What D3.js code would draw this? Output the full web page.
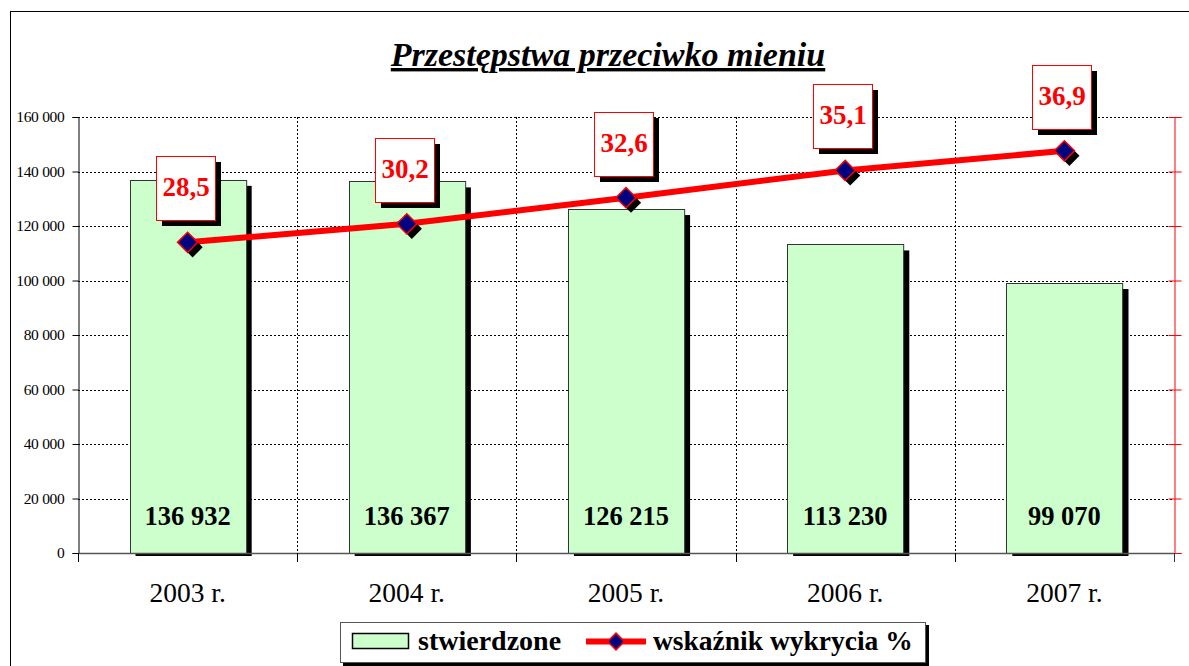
<!DOCTYPE html>
<html>
<head>
<meta charset="utf-8">
<script src="https://cdn.jsdelivr.net/npm/d3@7"></script>
<style>
  body { margin: 0; background: #fff; }
  text { font-family: "Liberation Serif", "DejaVu Serif", serif; }
</style>
</head>
<body>
<div id="chart"></div>
<script>
// Data
const years = ["2003 r.", "2004 r.", "2005 r.", "2006 r.", "2007 r."];
const stwierdzone = [136932, 136367, 126215, 113230, 99070];
const wskaznik = [28.5, 30.2, 32.6, 35.1, 36.9];
const yTicks = [0, 20000, 40000, 60000, 80000, 100000, 120000, 140000, 160000];
const rightTicks = [0, 5, 10, 15, 20, 25, 30, 35, 40];

function drawChart(containerId) {
  const width = 1189, height = 666;
  const plot = { left: 78, right: 1174, top: 117, bottom: 553 };

  const svg = d3.select(`#${containerId}`)
      .append("svg")
      .attr("width", width)
      .attr("height", height);

  // outer frame (right/bottom edges fall outside the view)
  svg.append("rect")
      .attr("x", 10.5).attr("y", 11.5)
      .attr("width", 1200).attr("height", 700)
      .attr("fill", "#fff")
      .attr("stroke", "#000");

  const fmt = v => d3.format(",")(v).replace(/,/g, " ");

  const x = d3.scaleBand()
      .domain(years)
      .range([plot.left, plot.right])
      .paddingInner(0.47)
      .paddingOuter(0.235);

  const y = d3.scaleLinear().domain([0, 160000]).range([plot.bottom, plot.top]);
  const y2 = d3.scaleLinear().domain([0, 40]).range([plot.bottom, plot.top]);

  const step = x.step();
  const boundaries = d3.range(years.length + 1).map(i => plot.left + i * step);

  // horizontal grid
  svg.append("g").selectAll("line")
      .data(yTicks.filter(d => d > 0))
      .join("line")
      .attr("x1", plot.left).attr("x2", plot.right)
      .attr("y1", d => Math.round(y(d)) + 0.5)
      .attr("y2", d => Math.round(y(d)) + 0.5)
      .attr("stroke", "#000")
      .attr("stroke-dasharray", "2,2");

  // vertical grid at category boundaries
  svg.append("g").selectAll("line")
      .data(boundaries.slice(1, -1))
      .join("line")
      .attr("x1", d => Math.round(d) + 0.5).attr("x2", d => Math.round(d) + 0.5)
      .attr("y1", plot.top).attr("y2", plot.bottom)
      .attr("stroke", "#000")
      .attr("stroke-dasharray", "2,2");

  // left axis
  const yAxis = svg.append("g")
      .attr("transform", `translate(${plot.left + 0.5},0)`)
      .call(d3.axisLeft(y).tickValues(yTicks).tickFormat(fmt).tickSize(6).tickPadding(8));
  yAxis.select(".domain").attr("stroke", "#000");
  yAxis.selectAll("text")
      .style("font-family", "'Liberation Serif'")
      .style("font-size", "15.5px")
      .style("letter-spacing", "-0.3px")
      .attr("fill", "#000");

  // right axis (red)
  const y2Axis = svg.append("g")
      .attr("transform", `translate(${plot.right + 0.5},0)`)
      .call(d3.axisRight(y2).tickValues(rightTicks).tickSize(7).tickFormat(""));
  y2Axis.selectAll("line, .domain").attr("stroke", "#f00");
  y2Axis.selectAll(".tick line").attr("x1", -6);

  // bar shadows
  svg.append("g").selectAll("rect")
      .data(stwierdzone)
      .join("rect")
      .attr("x", (d, i) => x(years[i]) + 6)
      .attr("y", d => y(d) + 6)
      .attr("width", x.bandwidth())
      .attr("height", d => plot.bottom - y(d) - 3)
      .attr("fill", "#000");

  // bars
  svg.append("g").selectAll("rect")
      .data(stwierdzone)
      .join("rect")
      .attr("x", (d, i) => Math.round(x(years[i])) + 0.5)
      .attr("y", d => Math.round(y(d)) + 0.5)
      .attr("width", x.bandwidth())
      .attr("height", d => plot.bottom - Math.round(y(d)))
      .attr("fill", "#ccffcc")
      .attr("stroke", "#333")
      .attr("stroke-width", 1);

  // x axis baseline + boundary ticks
  svg.append("line")
      .attr("x1", plot.left).attr("x2", plot.right)
      .attr("y1", plot.bottom + 0.5).attr("y2", plot.bottom + 0.5)
      .attr("stroke", "#555").attr("stroke-width", 1.5);
  svg.append("g").selectAll("line")
      .data(boundaries)
      .join("line")
      .attr("x1", d => Math.round(d) + 0.5).attr("x2", d => Math.round(d) + 0.5)
      .attr("y1", plot.bottom).attr("y2", plot.bottom + 9)
      .attr("stroke", (d, i) => i === years.length ? "#333" : "#000");

  // bar value labels
  svg.append("g").selectAll("text")
      .data(stwierdzone)
      .join("text")
      .attr("x", (d, i) => x(years[i]) + x.bandwidth() / 2)
      .attr("y", 525)
      .attr("text-anchor", "middle")
      .attr("font-size", 26.5)
      .attr("font-weight", "bold")
      .text(fmt);

  // category labels
  svg.append("g").selectAll("text")
      .data(years)
      .join("text")
      .attr("x", d => x(d) + x.bandwidth() / 2)
      .attr("y", 602)
      .attr("text-anchor", "middle")
      .attr("font-size", 27.5)
      .text(d => d);

  // line series
  const cx = i => x(years[i]) + x.bandwidth() / 2;
  const line = d3.line().x((d, i) => cx(i)).y(d => y2(d));
  svg.append("path")
      .datum(wskaznik)
      .attr("d", line)
      .attr("fill", "none")
      .attr("stroke", "#f00")
      .attr("stroke-width", 6);

  const diamond = d3.symbol().type(d3.symbolDiamond2).size(260);
  const markers = svg.append("g").selectAll("g")
      .data(wskaznik)
      .join("g")
      .attr("transform", (d, i) => `translate(${cx(i)},${y2(d)})`);
  markers.append("path")
      .attr("d", diamond)
      .attr("transform", "translate(5,5)")
      .attr("fill", "#000");
  markers.append("path")
      .attr("d", diamond)
      .attr("fill", "#000080")
      .attr("stroke", "#f00")
      .attr("stroke-width", 1.5);

  // line value boxes
  const boxes = svg.append("g").selectAll("g")
      .data(wskaznik)
      .join("g")
      .attr("transform", (d, i) => `translate(${Math.round(cx(i) - 32)},${Math.round(y2(d) - 86)})`);
  boxes.append("rect")
      .attr("x", 6).attr("y", 6)
      .attr("width", 59).attr("height", 64)
      .attr("fill", "#000");
  boxes.append("rect")
      .attr("x", 0.5).attr("y", 0.5)
      .attr("width", 59).attr("height", 64)
      .attr("fill", "#fff")
      .attr("stroke", "#f00");
  boxes.append("text")
      .attr("x", 30).attr("y", 40)
      .attr("text-anchor", "middle")
      .attr("font-size", 27)
      .attr("font-weight", "bold")
      .attr("fill", "#f00")
      .text(d => d3.format(".1f")(d).replace(".", ","));

  // title
  svg.append("text")
      .attr("x", 608).attr("y", 66)
      .attr("text-anchor", "middle")
      .attr("font-size", 34)
      .attr("font-weight", "bold")
      .attr("font-style", "italic")
      .attr("text-decoration", "underline")
      .text("Przestępstwa przeciwko mieniu");

  // legend
  const lg = svg.append("g").attr("transform", "translate(340,622)");
  lg.append("rect").attr("x", 3).attr("y", 3).attr("width", 586).attr("height", 41).attr("fill", "#000");
  lg.append("rect").attr("x", 0.5).attr("y", 0.5).attr("width", 585).attr("height", 40)
      .attr("fill", "#fff").attr("stroke", "#555");
  lg.append("rect").attr("x", 12.5).attr("y", 11.5).attr("width", 56).attr("height", 15)
      .attr("fill", "#ccffcc").attr("stroke", "#000").attr("stroke-width", 1.5);
  lg.append("text").attr("x", 78).attr("y", 28)
      .attr("font-size", 28).attr("font-weight", "bold").text("stwierdzone");
  lg.append("line").attr("x1", 246).attr("x2", 306).attr("y1", 19.5).attr("y2", 19.5)
      .attr("stroke", "#f00").attr("stroke-width", 6);
  lg.append("path").attr("d", d3.symbol().type(d3.symbolDiamond2).size(180))
      .attr("transform", "translate(276,19.5)")
      .attr("fill", "#000080").attr("stroke", "#f00").attr("stroke-width", 1.5);
  lg.append("text").attr("x", 313).attr("y", 28)
      .attr("font-size", 27.5).attr("font-weight", "bold").text("wskaźnik wykrycia %");
}

drawChart("chart");
</script>
</body>
</html>
